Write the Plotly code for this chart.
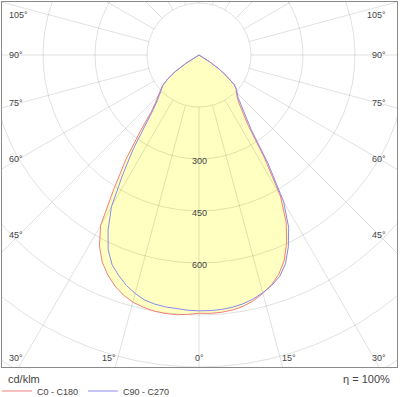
import numpy as np
import plotly.graph_objects as go

# ---- data (cd/klm) ----
gamma = [0, 2.5, 5, 7.5, 10, 12.5, 15, 17.5, 20, 22.5, 25, 27.5, 30,
         32.5, 35, 37.5, 40, 42.5, 45, 47.5, 50, 52.5, 55, 57.5, 60]
c0 = [745, 746, 745, 742, 736, 726, 712, 695, 673, 642, 598, 545, 470,
      350, 245, 205, 178, 162, 153, 145, 132, 100, 70, 35, 0]
c180 = [745, 749, 752, 752, 750, 745, 738, 726, 709, 687, 660, 622, 568,
        455, 368, 280, 215, 185, 165, 150, 138, 115, 85, 45, 0]
c90 = [738, 738, 737, 734, 729, 721, 710, 697, 680, 652, 610, 560, 488,
       370, 262, 218, 187, 167, 156, 147, 133, 102, 72, 36, 0]
c270 = [738, 737, 735, 733, 730, 724, 712, 697, 677, 655, 620, 568, 505,
        410, 330, 255, 205, 178, 160, 147, 136, 113, 84, 45, 0]

ring_values = [150, 300, 450, 600, 750, 900, 1050]
ring_labels = [300, 450, 600]
spoke_step = 15
angle_labels = [105, 90, 75, 60, 45, 30, 15, 0]

RED = "#f28080"
BLUE = "#8a8af0"
FILL = "#ffffc2"
GRID = "rgba(0,0,0,0.12)"
TXT = "#444444"
FONT = "Liberation Sans, Arial, sans-serif"

# ---- layout geometry ----
W, H = 400, 397
ml, mr, mt, mb = 2, 3, 2, 30
pw, ph = W - ml - mr, H - mt - mb
cx, cy = 197, 53          # pole position inside plot area (px)
k = 150 / 52.0            # cd/klm per pixel
xr = [-cx * k, (pw - cx) * k]
yr = [-(ph - cy) * k, cy * k]


def outline(right, left):
    g = np.radians(gamma)
    rr, rl = np.array(right, float), np.array(left, float)
    x = np.concatenate([-rl[::-1] * np.sin(g[::-1]), rr * np.sin(g)])
    y = np.concatenate([-rl[::-1] * np.cos(g[::-1]), -rr * np.cos(g)])
    return x, y


xa, ya = outline(c0, c180)
xb, yb = outline(c90, c270)

fig = go.Figure()
# fills (union of both curves)
for xs, ys in ((xa, ya), (xb, yb)):
    fig.add_trace(go.Scatter(x=xs, y=ys, mode="lines", fill="toself",
                             fillcolor=FILL, line=dict(width=0),
                             hoverinfo="skip", showlegend=False))

# polar grid
gx, gy = [], []
th = np.linspace(0, 2 * np.pi, 721)
for r in ring_values:
    gx += list(r * np.sin(th)) + [None]
    gy += list(-r * np.cos(th)) + [None]
for a in range(0, 360, spoke_step):
    t = np.radians(a)
    gx += [ring_values[0] * np.sin(t), 1400 * np.sin(t), None]
    gy += [-ring_values[0] * np.cos(t), -1400 * np.cos(t), None]
fig.add_trace(go.Scatter(x=gx, y=gy, mode="lines",
                         line=dict(color=GRID, width=1),
                         hoverinfo="skip", showlegend=False))

# curves
fig.add_trace(go.Scatter(x=xa, y=ya, mode="lines", name="C0 - C180",
                         line=dict(color=RED, width=1)))
fig.add_trace(go.Scatter(x=xb, y=yb, mode="lines", name="C90 - C270",
                         line=dict(color=BLUE, width=1)))

ann = []
# radial value labels
for v in ring_labels:
    ann.append(dict(x=0, y=-v, xref="x", yref="y", text=str(v),
                    showarrow=False, yshift=-2,
                    font=dict(size=9, color=TXT, family=FONT)))

# angle labels
lx = 180 * k                  # where spokes are sampled at the sides
edge_l = -(cx - 5) * k        # left text edge
edge_r = (pw - cx - 9) * k    # right text edge
ytop = (cy - 13) * k
ybot = -(ph - cy - 9) * k
for side in (-1, 1):
    for a in angle_labels:
        if a == 0 and side == 1:
            continue
        t = np.radians(a)
        if a == 0:
            x, y, anc = 0, ybot, "center"
        elif a < 90 and abs(ybot) * np.tan(t) < 150 * k:
            x, y = side * abs(ybot) * np.tan(t), ybot
            anc = "right" if side < 0 else "left"
        else:
            y = -lx * np.cos(t) / np.sin(t)
            y = min(max(y, ybot), ytop)
            x = edge_l if side < 0 else edge_r
            anc = "left" if side < 0 else "right"
        ann.append(dict(x=x, y=y, xref="x", yref="y", text=f"{a}°",
                        showarrow=False, xanchor=anc, yanchor="middle",
                        font=dict(size=9, color=TXT, family=FONT)))

ann.append(dict(x=4 / pw, y=-12 / ph, xref="paper", yref="paper",
                text="cd/klm", showarrow=False, xanchor="left",
                yanchor="middle", font=dict(size=11, color=TXT, family=FONT)))
ann.append(dict(x=(392 - ml) / pw, y=-12 / ph, xref="paper", yref="paper",
                text="η = 100%", showarrow=False, xanchor="right",
                yanchor="middle", font=dict(size=11, color=TXT, family=FONT)))

fig.update_layout(
    width=W, height=H,
    margin=dict(l=ml, r=mr, t=mt, b=mb, autoexpand=False),
    paper_bgcolor="white", plot_bgcolor="white",
    xaxis=dict(range=xr, visible=True, showgrid=False, zeroline=False,
               showticklabels=False, ticks="", showline=True, mirror=True,
               linecolor="#8a8a8a", linewidth=1, fixedrange=True),
    yaxis=dict(range=yr, visible=True, showgrid=False, zeroline=False,
               showticklabels=False, ticks="", showline=True, mirror=True,
               linecolor="#8a8a8a", linewidth=1, fixedrange=True),
    showlegend=True,
    legend=dict(orientation="h", x=-5 / pw, y=-24 / ph, xanchor="left",
                yanchor="middle", bgcolor="rgba(0,0,0,0)", itemwidth=30,
                font=dict(size=9, color=TXT, family=FONT),
                tracegroupgap=0),
    annotations=ann,
)

fig.write_html("out.html", config={"displayModeBar": False},
               post_script="document.body.style.margin='0';"
                           "document.body.style.padding='0';")
